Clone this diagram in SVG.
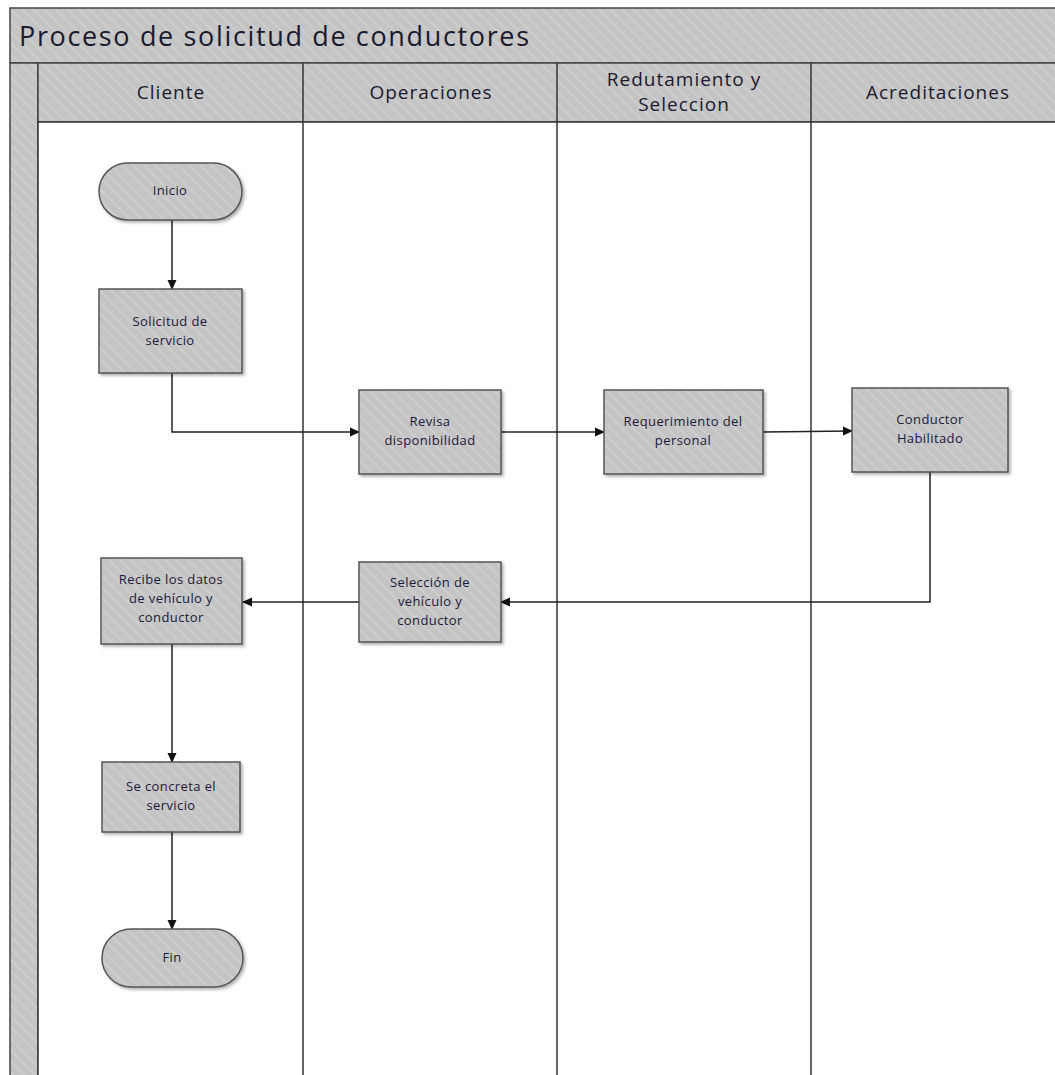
<svg xmlns="http://www.w3.org/2000/svg" width="1055" height="1075" viewBox="0 0 1055 1075">
  <defs>
    <pattern id="hatch" width="8" height="8" patternUnits="userSpaceOnUse" patternTransform="rotate(-45)">
      <rect width="8" height="8" fill="#c4c4c4"/>
      <rect x="0" y="0" width="2" height="8" fill="#cdcdcd"/>
    </pattern>
    <filter id="shadow" x="-10%" y="-10%" width="130%" height="130%">
      <feDropShadow dx="2" dy="2" stdDeviation="1.5" flood-color="#000" flood-opacity="0.3"/>
    </filter>
    <marker id="arrow" markerWidth="10" markerHeight="10" refX="9" refY="5" orient="auto" markerUnits="userSpaceOnUse">
      <path d="M0,0.5 L10,5 L0,9.5 Z" fill="#111"/>
    </marker>
  </defs>
  <style>
    .band { fill: url(#hatch); stroke: #444; stroke-width: 1.5; }
    .lane { fill: none; stroke: #333; stroke-width: 1.5; }
    .node { fill: url(#hatch); stroke: #555; stroke-width: 1.5; filter: url(#shadow); }
    .title { font-family: "Open Sans", "Noto Sans", sans-serif; font-size: 27px; fill: #1a1a2e; }
    .head { font-family: "Open Sans", "Noto Sans", sans-serif; font-size: 19px; letter-spacing: 1px; fill: #1a1a2e; text-anchor: middle; }
    .label { font-family: "Open Sans", "Noto Sans", sans-serif; font-size: 13px; letter-spacing: 0.4px; fill: #1a1a3a; text-anchor: middle; }
    .edge { fill: none; stroke: #222; stroke-width: 1.5; marker-end: url(#arrow); }
  </style>

  <rect width="1055" height="1075" fill="#ffffff"/>

  <!-- pool frame -->
  <g id="pool">
    <rect class="band" x="10" y="8" width="1060" height="55"/>
    <text class="title" x="19" y="46" textLength="510" lengthAdjust="spacing">Proceso de solicitud de conductores</text>
    <rect class="band" x="10" y="63" width="28" height="1020"/>
    <rect class="band" x="38" y="63" width="1030" height="59"/>
    <rect x="38" y="122" width="1030" height="960" fill="#ffffff" stroke="#333" stroke-width="1.5"/>
    <line class="lane" x1="303" y1="63" x2="303" y2="1080"/>
    <line class="lane" x1="557" y1="63" x2="557" y2="1080"/>
    <line class="lane" x1="811" y1="63" x2="811" y2="1080"/>
  </g>

  <!-- lane headers -->
  <g id="lane-headers">
    <text class="head" x="171" y="99">Cliente</text>
    <text class="head" x="431" y="99">Operaciones</text>
    <text class="head" x="684" y="86">Redutamiento y</text>
    <text class="head" x="684" y="111">Seleccion</text>
    <text class="head" x="938" y="99">Acreditaciones</text>
  </g>

  <!-- connectors -->
  <g id="connectors">
    <path class="edge" d="M172,220 L172,289"/>
    <path class="edge" d="M172,373 L172,432 L359,432"/>
    <path class="edge" d="M501,432 L604,432"/>
    <path class="edge" d="M763,432 L852,431"/>
    <path class="edge" d="M930,472 L930,602 L501,602"/>
    <path class="edge" d="M359,602 L243,602"/>
    <path class="edge" d="M172,644 L172,762"/>
    <path class="edge" d="M172,832 L172,929"/>
  </g>

  <g id="inicio">
    <rect class="node" x="99" y="163" width="143" height="57" rx="28.5" ry="28.5"/>
    <text class="label" x="170" y="195">Inicio</text>
  </g>
  <g id="solicitud">
    <rect class="node" x="99" y="289" width="143" height="84"/>
    <text class="label" x="170" y="326">Solicitud de</text>
    <text class="label" x="170" y="345">servicio</text>
  </g>
  <g id="revisa">
    <rect class="node" x="359" y="390" width="142" height="84"/>
    <text class="label" x="430" y="426">Revisa</text>
    <text class="label" x="430" y="445">disponibilidad</text>
  </g>
  <g id="requerimiento">
    <rect class="node" x="604" y="390" width="159" height="84"/>
    <text class="label" x="683" y="426">Requerimiento del</text>
    <text class="label" x="683" y="445">personal</text>
  </g>
  <g id="conductor">
    <rect class="node" x="852" y="388" width="156" height="84"/>
    <text class="label" x="930" y="424">Conductor</text>
    <text class="label" x="930" y="443">Habilitado</text>
  </g>
  <g id="seleccion">
    <rect class="node" x="359" y="562" width="142" height="80"/>
    <text class="label" x="430" y="587">Selección de</text>
    <text class="label" x="430" y="606">vehículo y</text>
    <text class="label" x="430" y="625">conductor</text>
  </g>
  <g id="recibe">
    <rect class="node" x="101" y="558" width="141" height="86"/>
    <text class="label" x="171" y="584">Recibe los datos</text>
    <text class="label" x="171" y="603">de vehículo y</text>
    <text class="label" x="171" y="622">conductor</text>
  </g>
  <g id="concreta">
    <rect class="node" x="102" y="762" width="138" height="70"/>
    <text class="label" x="171" y="791">Se concreta el</text>
    <text class="label" x="171" y="810">servicio</text>
  </g>
  <g id="fin">
    <rect class="node" x="102" y="929" width="141" height="58" rx="29" ry="29"/>
    <text class="label" x="172" y="962">Fin</text>
  </g>
</svg>
